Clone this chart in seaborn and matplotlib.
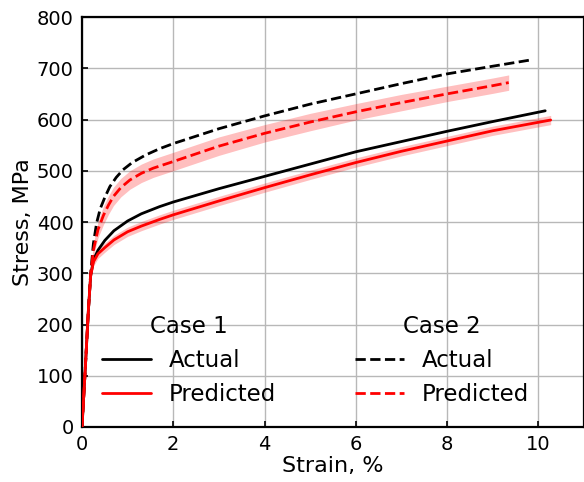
import numpy as np
import pandas as pd
import matplotlib
matplotlib.use("Agg")
import matplotlib.pyplot as plt
import seaborn as sns
from matplotlib.lines import Line2D

# ---- data ----
c1_act_x = [0, 0.07, 0.14, 0.19, 0.25, 0.35, 0.5, 0.7, 1.0, 1.3, 1.7, 2.0, 3, 4, 5, 6, 7, 8, 9, 10.15]
c1_act_y = [0, 111, 228, 295, 326, 345, 364, 383, 402, 416, 430, 439, 465, 489, 513, 537, 557, 577, 596, 617]

c1_pred_x = [0, 0.07, 0.14, 0.19, 0.25, 0.35, 0.5, 0.7, 1.0, 1.3, 1.7, 2.0, 3, 4, 5, 6, 7, 8, 9, 10.27]
c1_pred_y = [0, 111, 228, 295, 322, 338, 350, 365, 381, 392, 405, 414, 441, 467, 492, 516, 538, 558, 578, 599]
c1_pred_sd = [0, 2, 4, 6, 8, 9, 9, 9, 9, 9, 9, 9, 9, 9, 9, 9, 9, 9, 9, 9]

c2_act_x = [0, 0.07, 0.14, 0.19, 0.25, 0.32, 0.4, 0.5, 0.61, 0.75, 0.9, 1.1, 1.4, 1.7, 2.0, 3, 4, 5, 6, 7, 8, 9, 9.82]
c2_act_y = [0, 111, 228, 300, 358, 398, 426, 448, 469, 487, 502, 516, 531, 543, 553, 582, 607, 630, 650, 670, 689, 704, 716]

c2_pred_x = [0, 0.07, 0.14, 0.19, 0.25, 0.35, 0.47, 0.58, 0.69, 0.85, 1.05, 1.3, 1.56, 2.0, 3, 4, 5, 6, 7, 8, 9, 9.35]
c2_pred_y = [0, 111, 228, 298, 345, 385, 413, 433, 450, 467, 482, 495, 505, 518, 548, 573, 595, 615, 633, 650, 666, 672]
c2_pred_sd = [0, 2, 5, 8, 12, 16, 18, 18, 18, 18, 18, 18, 18, 18, 18, 17, 17, 16, 16, 15, 15, 15]

x_ticks = [0, 2, 4, 6, 8, 10]
y_ticks = [0, 100, 200, 300, 400, 500, 600, 700, 800]

sns.set_style("white")
plt.rcParams["font.family"] = ["DejaVu Sans"]
plt.rcParams["text.color"] = "black"
plt.rcParams["axes.labelcolor"] = "black"
plt.rcParams["xtick.color"] = "black"
plt.rcParams["ytick.color"] = "black"

fig = plt.figure(figsize=(5.84, 4.82), dpi=100)
ax = fig.add_axes([82 / 584, 55 / 482, 502 / 584, 410 / 482])

lw = 2.0
band_color = (1.0, 0.0, 0.0, 0.25)

ax.fill_between(c1_pred_x, np.array(c1_pred_y) - np.array(c1_pred_sd),
                np.array(c1_pred_y) + np.array(c1_pred_sd), color=band_color, lw=0, zorder=2)
ax.fill_between(c2_pred_x, np.array(c2_pred_y) - np.array(c2_pred_sd),
                np.array(c2_pred_y) + np.array(c2_pred_sd), color=band_color, lw=0, zorder=2)

sns.lineplot(x=c1_act_x, y=c1_act_y, ax=ax, color="black", lw=lw, sort=False, zorder=3)
sns.lineplot(x=c1_pred_x, y=c1_pred_y, ax=ax, color="red", lw=lw, sort=False, zorder=4)
sns.lineplot(x=c2_act_x, y=c2_act_y, ax=ax, color="black", lw=lw, ls="--", sort=False, zorder=3)
sns.lineplot(x=c2_pred_x, y=c2_pred_y, ax=ax, color="red", lw=lw, ls="--", sort=False, zorder=4)

ax.set_xlim(0, 11)
ax.set_ylim(0, 800)
ax.set_xticks(x_ticks)
ax.set_yticks(y_ticks)
ax.grid(True, color="#b8b8b8", lw=1.0, zorder=0)
ax.set_axisbelow(True)
for s in ax.spines.values():
    s.set_color("black")
    s.set_linewidth(1.6)
ax.tick_params(direction="in", length=4, width=1.2, labelsize=14, colors="black",
               bottom=True, left=True, pad=6)
ax.set_xlabel("Strain, %", fontsize=16, labelpad=1, color="black")
ax.set_ylabel("Stress, MPa", fontsize=16, labelpad=3, color="black")

lfs = 16.5
h1 = [Line2D([], [], color="black", lw=lw), Line2D([], [], color="red", lw=lw)]
h2 = [Line2D([], [], color="black", lw=lw, ls="--"), Line2D([], [], color="red", lw=lw, ls="--")]
leg1 = ax.legend(h1, ["Actual", "Predicted"], title="Case 1", fontsize=lfs, title_fontsize=lfs,
                 frameon=False, loc="upper left", bbox_to_anchor=(-0.002, 0.3225),
                 handlelength=2.15, handletextpad=0.8, labelspacing=0.48)
ax.add_artist(leg1)
leg2 = ax.legend(h2, ["Actual", "Predicted"], title="Case 2", fontsize=lfs, title_fontsize=lfs,
                 frameon=False, loc="upper left", bbox_to_anchor=(0.502, 0.3225),
                 handlelength=2.15, handletextpad=0.8, labelspacing=0.48)

fig.savefig("out.png", dpi=100)
